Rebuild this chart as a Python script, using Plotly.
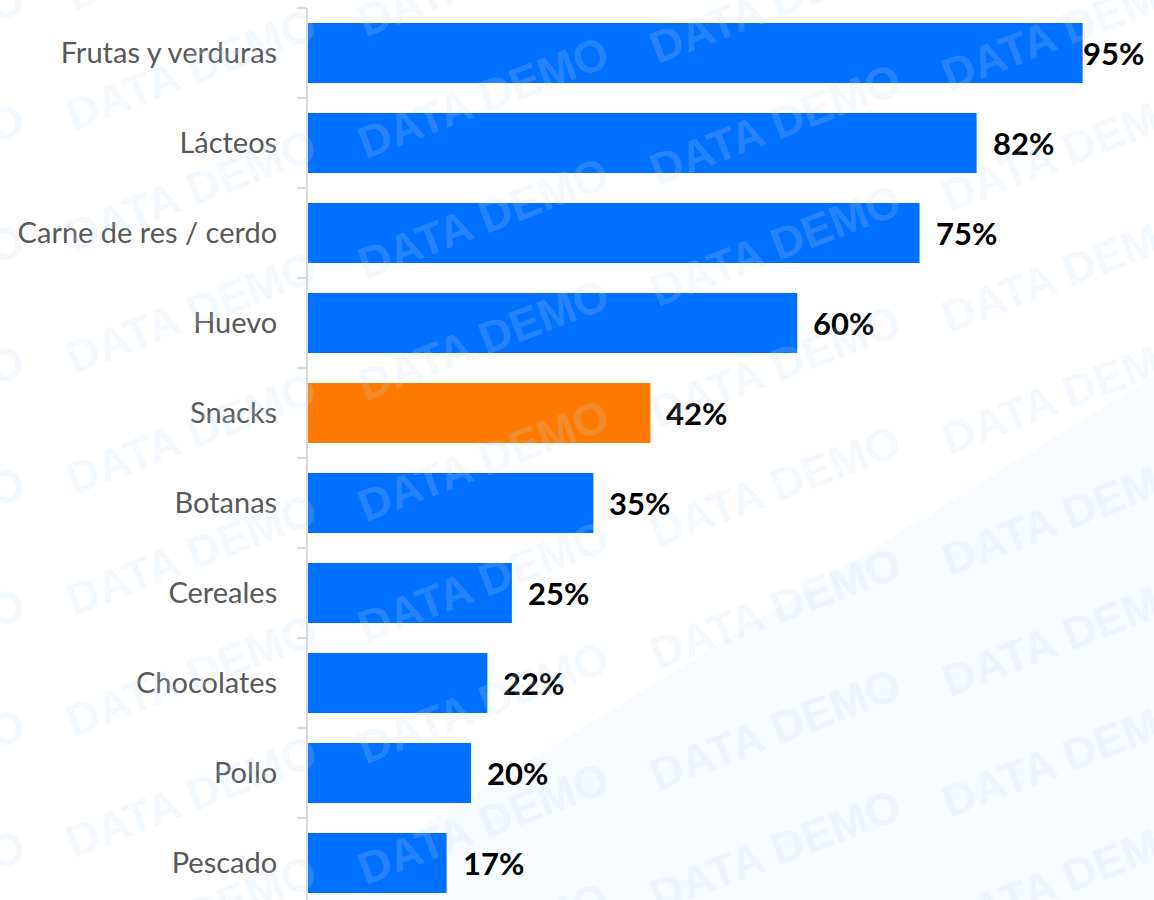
import plotly.graph_objects as go

# ---- data ----
categories = ["Frutas y verduras", "Lácteos", "Carne de res / cerdo", "Huevo", "Snacks",
              "Botanas", "Cereales", "Chocolates", "Pollo", "Pescado"]
values = [95, 82, 75, 60, 42, 35, 25, 22, 20, 17]
bar_colors = ["#0070FF", "#0070FF", "#0070FF", "#0070FF", "#FF7A00",
              "#0070FF", "#0070FF", "#0070FF", "#0070FF", "#0070FF"]
label_shift = [-2, 14, 14, 14, 14, 14, 14, 14, 14, 14]

W, H = 1154, 900
ML, MT = 308, 8
plot_w, plot_h = W - ML, H - MT
cat_px = 90.0
n_vis = plot_h / cat_px

fig = go.Figure()
fig.add_trace(go.Bar(
    x=values, y=categories, orientation="h",
    marker=dict(color=bar_colors, line=dict(width=0)),
    hoverinfo="skip", showlegend=False,
))

# value labels
for c, v, s in zip(categories, values, label_shift):
    fig.add_annotation(
        x=v, y=c, xref="x", yref="y", text=f"{v}%", showarrow=False,
        xanchor="left", yanchor="middle", xshift=s,
        font=dict(family="Lato", size=31, color="#000000", weight="bold"),
    )

def px2paper(px, py):
    return (px - ML) / plot_w, (H - py) / plot_h

# faint background tint (bottom-right)
pts = [px2paper(303, 900), px2paper(1154, 376), px2paper(1154, 900)]
path = "M " + " L ".join(f"{x},{y}" for x, y in pts) + " Z"
fig.add_shape(type="path", path=path, xref="paper", yref="paper",
              fillcolor="#F7FAFE", line=dict(width=0), layer="below")

# watermark
for i in range(-2, 4):
    for j in range(-3, 10):
        cx = 483 + 292 * i
        cy = 97 + 27 * i + 121 * j
        if cx < -250 or cx > 1450 or cy < -120 or cy > 1020:
            continue
        xp, yp = px2paper(cx, cy)
        fig.add_annotation(
            x=xp, y=yp, xref="paper", yref="paper", text="DATA DEMO",
            showarrow=False, textangle=-21, xanchor="center", yanchor="middle",
            font=dict(family="Liberation Sans", size=45, color="rgba(195,218,245,0.2)",
                      weight="bold"),
        )

fig.update_layout(
    width=W, height=H,
    margin=dict(l=ML, r=0, t=MT, b=0, pad=0),
    paper_bgcolor="#FFFFFF", plot_bgcolor="rgba(0,0,0,0)",
    bargap=1/3,
    xaxis=dict(range=[0, plot_w / 8.154], visible=False, showgrid=False, zeroline=False,
               fixedrange=True),
    yaxis=dict(
        categoryorder="array", categoryarray=categories,
        range=[-0.5 + n_vis, -0.5],
        showline=True, linecolor="#D9D9D9", linewidth=2,
        ticks="outside", ticklen=9, tickwidth=2, tickcolor="#D9D9D9",
        tickson="boundaries", showgrid=False, zeroline=False,
        ticklabelstandoff=23,
        tickfont=dict(family="Lato", size=29, color="#595959"),
        fixedrange=True,
    ),
)

fig.write_html(
    "out.html",
    config={"displayModeBar": False},
    post_script="document.body.style.margin='0px'; document.body.style.overflow='hidden';",
)
